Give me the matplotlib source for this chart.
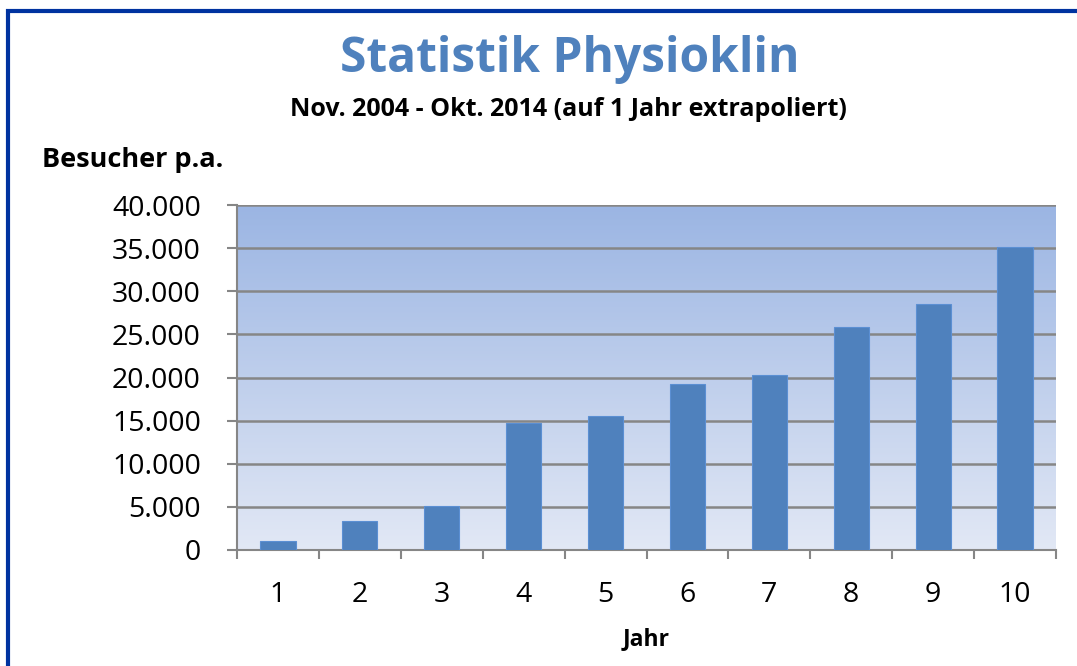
import numpy as np
import matplotlib
matplotlib.use("Agg")
import matplotlib.pyplot as plt
from matplotlib.patches import Rectangle
from matplotlib.ticker import FuncFormatter

plt.rcParams['font.family'] = ['Open Sans', 'DejaVu Sans']

jahre = ['1', '2', '3', '4', '5', '6', '7', '8', '9', '10']
besucher = [1100, 3350, 5050, 14700, 15500, 19300, 20300, 25800, 28500, 35100]

fig = plt.figure(figsize=(10.77, 6.66), dpi=100)

# blue frame round the chart (open on right and bottom like the screenshot)
fig.add_artist(Rectangle((8 / 1077, -0.1), 1.2, 1 - 11 / 666 + 0.1,
                         transform=fig.transFigure, fill=False,
                         edgecolor='#0033a0', linewidth=3))

ax = fig.add_axes([237 / 1077, 1 - 550 / 666, (1056 - 237) / 1077, (550 - 205) / 666])

# gradient background
grad = np.linspace(0, 1, 256).reshape(-1, 1)
top = np.array([0x9b, 0xb5, 0xe3]) / 255
bot = np.array([0xe2, 0xe8, 0xf5]) / 255
img = bot + (top - bot) * grad[:, :, None]
ax.imshow(img, extent=[0, 1, 0, 1], transform=ax.transAxes, aspect='auto',
          origin='lower', zorder=0)

x = np.arange(len(jahre))
ax.bar(x, besucher, width=0.43, color='#4f81bd', edgecolor='#5b8fd3',
       linewidth=0.8, zorder=3)

ax.set_xlim(-0.5, len(jahre) - 0.5)
ax.set_ylim(0, 40000)
ax.set_yticks(range(0, 40001, 5000))
ax.yaxis.set_major_formatter(FuncFormatter(lambda v, p: f"{int(v):,}".replace(',', '.')))
ax.set_xticks(x)
ax.set_xticklabels(jahre)
ax.set_xticks(np.arange(-0.5, len(jahre), 1), minor=True)
ax.tick_params(axis='x', which='major', length=0, pad=22, labelsize=20.5)
ax.tick_params(axis='x', which='minor', length=6.5, width=1.5, color='#868686', direction='out')
ax.tick_params(axis='y', length=7, width=1.5, color='#868686', labelsize=20.5, pad=19)

ax.grid(axis='y', color='#868686', linewidth=1.8, zorder=1)
ax.set_axisbelow(True)
for s in ['top', 'right']:
    ax.spines[s].set_visible(False)
for s in ['left', 'bottom']:
    ax.spines[s].set_color('#868686')
    ax.spines[s].set_linewidth(1.5)

ax.set_xlabel('Jahr', fontsize=16.5, fontweight='bold', labelpad=13)

fig.text(570 / 1077, 1 - 60 / 666, 'Statistik Physioklin', ha='center', va='center',
         fontsize=34.5, fontweight='bold', color='#4f81bd')
fig.text(568 / 1077, 1 - 109 / 666, 'Nov. 2004 - Okt. 2014 (auf 1 Jahr extrapoliert)',
         ha='center', va='center', fontsize=18, fontweight='bold', color='black')
fig.text(42 / 1077, 1 - 160 / 666, 'Besucher p.a.', ha='left', va='center',
         fontsize=19.5, fontweight='bold', color='black')

fig.savefig('out.png', dpi=100)
